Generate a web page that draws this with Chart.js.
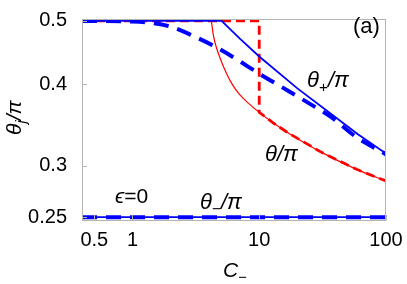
<!DOCTYPE html>
<html>
<head>
<meta charset="utf-8">
<style>
  html, body { margin: 0; padding: 0; background: #fff; }
  #wrap { width: 407px; height: 284px; }
</style>
<script src="https://cdn.jsdelivr.net/npm/chart.js"></script>
</head>
<body>
<div id="wrap"><canvas id="chart" width="407" height="284"></canvas></div>
<script>
// x = C_-, y = theta_j / pi  (both log axes)
const xTicks = [0.5, 1, 10, 100];
const yTicks = [0.25, 0.3, 0.4, 0.5];

// theta_+ / pi, solid blue
const cPlus = [0.4, 5.05, 7, 10, 20, 39, 60, 100];
const thetaPlus = [0.5, 0.5, 0.47, 0.441, 0.394, 0.357, 0.335, 0.313];

// theta_+ / pi, dashed blue
const cPlusDash = [0.4, 1, 1.36, 2, 3.1, 4.27, 6.7, 10, 15.7, 25.7, 37, 58, 100];
const thetaPlusDash = [0.5, 0.499, 0.497, 0.49, 0.473, 0.459, 0.436, 0.415, 0.394, 0.372, 0.356, 0.332, 0.312];

// theta / pi, thin red
const cTheta = [4.19, 4.34, 4.58, 5.02, 5.5, 6.13, 6.96, 8.33, 10, 13.1, 17.2, 31.3, 58.6, 100];
const theta = [0.5, 0.4765, 0.456, 0.4336, 0.416, 0.3996, 0.386, 0.373, 0.362, 0.348, 0.336, 0.314, 0.296, 0.284];

// theta / pi, dashed red (jump at C = 10)
const cThetaDash = [0.4, 10, 10, 13.1, 17.2, 31.3, 58.6, 100];
const thetaDash = [0.5, 0.5, 0.362, 0.348, 0.336, 0.314, 0.296, 0.284];

// theta_- / pi
const cMinus = [0.4, 100];
const thetaMinus = [0.25, 0.25];

const pts = (xs, ys) => xs.map((x, i) => ({ x: x, y: ys[i] }));
const BLUE = '#0000ff', RED = '#ff0000', FRAME = '#b4b4b4';
const FONT = '"Liberation Sans", Arial, sans-serif';

function txt(ctx, parts, x, y, size) {
  // parts: [text, italic, sub]
  let cx = x;
  parts.forEach(p => {
    const s = p[2] ? size * 0.7 : size;
    ctx.font = (p[1] ? 'italic ' : '') + s + 'px ' + FONT;
    ctx.fillText(p[0], cx, p[2] ? y + size * 0.22 : y);
    cx += ctx.measureText(p[0]).width;
  });
}

const decor = {
  id: 'decor',
  afterDraw(chart) {
    const ctx = chart.ctx, a = chart.chartArea;
    const xs = chart.scales.x, ys = chart.scales.y;
    ctx.save();
    ctx.strokeStyle = FRAME;
    ctx.lineWidth = 1;
    ctx.strokeRect(a.left + 0.5, a.top + 0.5, a.right - a.left - 1, a.bottom - a.top);
    ctx.beginPath();
    xTicks.forEach(v => {
      const px = Math.round(xs.getPixelForValue(v)) + 0.5;
      ctx.moveTo(px, a.bottom); ctx.lineTo(px, a.bottom - 5);
    });
    yTicks.forEach(v => {
      const py = Math.round(ys.getPixelForValue(v)) + 0.5;
      ctx.moveTo(a.left, py); ctx.lineTo(a.left + 5, py);
    });
    ctx.stroke();

    ctx.fillStyle = '#000';
    ctx.textBaseline = 'alphabetic';
    txt(ctx, [['(a)', false, false]], 353, 33, 22);
    txt(ctx, [['θ', true, false], ['+', false, true], ['/', true, false], ['π', true, false]], 307, 87, 22);
    txt(ctx, [['θ', true, false], ['/', true, false], ['π', true, false]], 265, 161, 22);
    txt(ctx, [['θ', true, false], ['−', false, true], ['/', true, false], ['π', true, false]], 200, 209, 22);
    txt(ctx, [['ϵ', true, false], ['=0', false, false]], 115, 203, 21);
    txt(ctx, [['C', true, false], ['−', false, true]], 223, 277, 21);

    ctx.save();
    ctx.translate(21, 135);
    ctx.rotate(-Math.PI / 2);
    txt(ctx, [['θ', true, false], ['j', true, true], ['/', true, false], ['π', true, false]], 0, 0, 21);
    ctx.restore();
    ctx.restore();
  }
};

new Chart(document.getElementById('chart'), {
  type: 'line',
  data: {
    datasets: [
      { data: pts(cPlusDash, thetaPlusDash), borderColor: BLUE, borderWidth: 4, borderDash: [15, 9], cubicInterpolationMode: 'monotone' },
      { data: pts(cMinus, thetaMinus), borderColor: BLUE, borderWidth: 4, borderDash: [15, 9] },
      { data: pts(cPlus, thetaPlus), borderColor: BLUE, borderWidth: 1.8 },
      { data: pts(cMinus, thetaMinus), borderColor: BLUE, borderWidth: 1.8 },
      { data: pts(cTheta, theta), borderColor: RED, borderWidth: 1.2, cubicInterpolationMode: 'monotone' },
      { data: pts(cThetaDash, thetaDash), borderColor: RED, borderWidth: 2.8, borderDash: [9, 5] }
    ]
  },
  options: {
    responsive: false,
    animation: false,
    layout: { padding: { left: 0, top: 11, right: 21, bottom: 0 } },
    elements: { point: { radius: 0 }, line: { fill: false, tension: 0 } },
    plugins: { legend: { display: false }, tooltip: { enabled: false } },
    scales: {
      x: {
        type: 'logarithmic', min: 0.4, max: 100,
        grid: { display: false }, border: { display: false },
        afterBuildTicks: s => { s.ticks = xTicks.map(v => ({ value: v })); },
        afterFit: s => { s.height = 64; },
        ticks: { color: '#000', padding: 0, maxRotation: 0, autoSkip: false,
                 font: { family: FONT, size: 20 }, callback: v => String(v) }
      },
      y: {
        type: 'logarithmic', min: 0.2475, max: 0.5034,
        grid: { display: false }, border: { display: false },
        afterBuildTicks: s => { s.ticks = yTicks.map(v => ({ value: v })); },
        afterFit: s => { s.width = 82; },
        ticks: { color: '#000', padding: 7, autoSkip: false,
                 font: { family: FONT, size: 20 }, callback: v => String(v) }
      }
    }
  },
  plugins: [decor]
});
</script>
</body>
</html>
